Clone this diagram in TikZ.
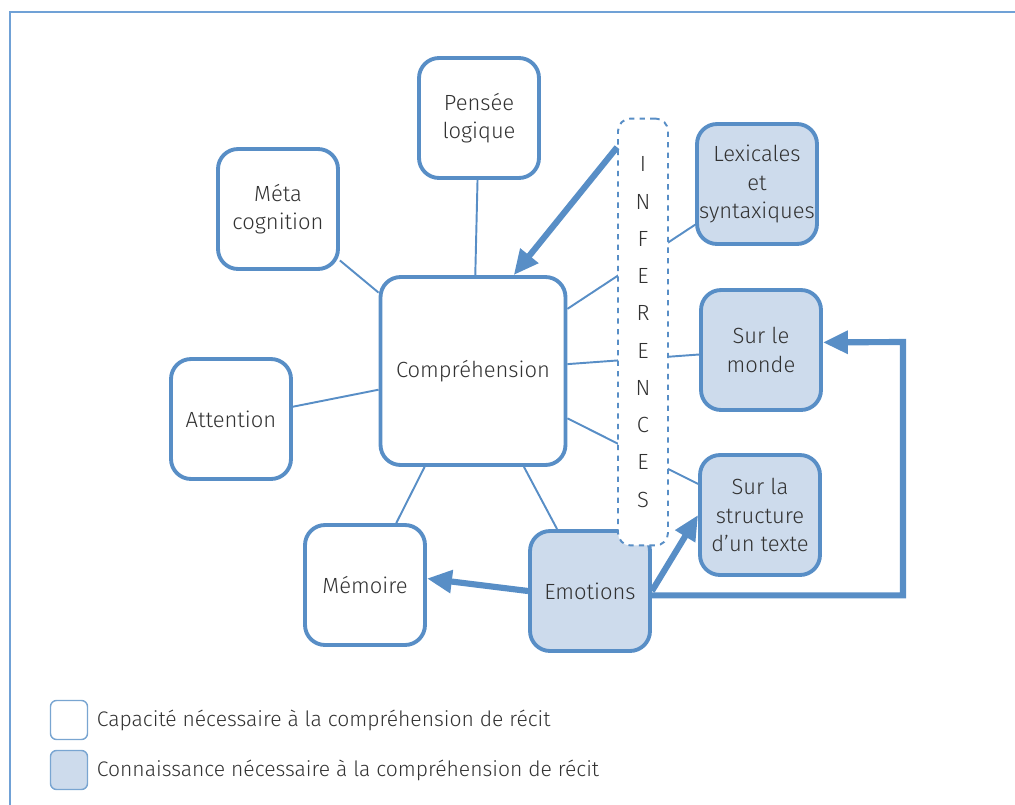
\documentclass[tikz,border=0pt]{standalone}
\usepackage{fontspec}
\setmainfont{Fira Sans Light}
\usepackage{tikz}
\usetikzlibrary{arrows.meta}
\usetikzlibrary{positioning}

\definecolor{bleu}{RGB}{88,142,198}
\definecolor{bleuclair}{RGB}{205,219,236}
\definecolor{cadre}{RGB}{112,161,214}
\definecolor{texte}{RGB}{50,50,50}

\tikzset{
	capacite/.style={draw=bleu, line width=2.2pt, fill=white, rounded corners=4mm, minimum width=2.4cm, minimum height=2.4cm, align=center, inner sep=1pt, text=texte, font=\fontsize{12.5}{16}\selectfont},
	connaissance/.style={capacite, fill=bleuclair},
	inferences/.style={draw=bleu, dashed, line width=1.1pt, fill=white, rounded corners=2.5mm, minimum width=1cm, minimum height=8.54cm, align=center, text=texte, font=\fontsize{12.5}{21.2}\selectfont},
	lien/.style={draw=bleu, line width=1.1pt},
	fleche/.style={draw=bleu, line width=3.5pt, -{Triangle[length=5mm,width=4.4mm]}},
	legende/.style={draw=bleu!80, line width=0.8pt, rounded corners=1.2mm, minimum width=0.74cm, minimum height=0.78cm},
	legtexte/.style={text=texte, font=\fontsize{12}{14}\selectfont}
}

\begin{document}
\begin{tikzpicture}[x=0.02cm, y=-0.02cm]
		\useasboundingbox (0,0) rectangle (1015,805);
		\draw[cadre, line width=0.9pt] (10,805) -- (10,12) -- (1015,12);

		\node[capacite, minimum width=3.7cm, minimum height=3.76cm] (compr) at (473,371) {Compréhension};
		\node[capacite] (pensee) at (479,118) {Pensée\\logique};
		\node[capacite] (meta) at (278,209) {Méta\\cognition};
		\node[capacite] (attention) at (231,419) {Attention};
		\node[capacite] (memoire) at (365,585) {Mémoire};
		\node[connaissance] (emotions) at (590,591) {Emotions};
		\node[connaissance] (lexic) at (757,184) {Lexicales\\et\\syntaxiques};
		\node[connaissance] (monde) at (761,350) {Sur le\\monde};
		\node[connaissance] (structure) at (760,515) {Sur la\\structure\\d’un texte};

		\draw[lien] (pensee) -- (compr);
		\draw[lien] (meta) -- (compr);
		\draw[lien] (attention) -- (compr);
		\draw[lien] (memoire) -- (compr);
		\draw[lien] (emotions) -- (compr);

		\draw[lien] (compr) -- (lexic);
		\draw[lien] (compr) -- (monde);
		\draw[lien] (compr) -- (structure);

		\node[inferences] (infer) at (643,332) {I\\N\\F\\E\\R\\E\\N\\C\\E\\S};

		\draw[fleche] (infer.98) -- (compr.67);
		\draw[fleche] (emotions.west) -- (memoire.6);
		\draw[fleche] (emotions.east) -- (structure.west);

		\coordinate (coin) at (903,342);
		\draw[fleche] (emotions.-4) -| (coin) -- (monde.7);

		\node[legende, fill=white] (leg1) at (69,720) {};
		\node[legende, fill=bleuclair] (leg2) at (69,770) {};
		\node[legtexte, right=0.05cm of leg1] (legcap) {Capacité nécessaire à la compréhension de récit};
		\node[legtexte, right=0.05cm of leg2] (legcon) {Connaissance nécessaire à la compréhension de récit};
	\end{tikzpicture}
\end{document}
